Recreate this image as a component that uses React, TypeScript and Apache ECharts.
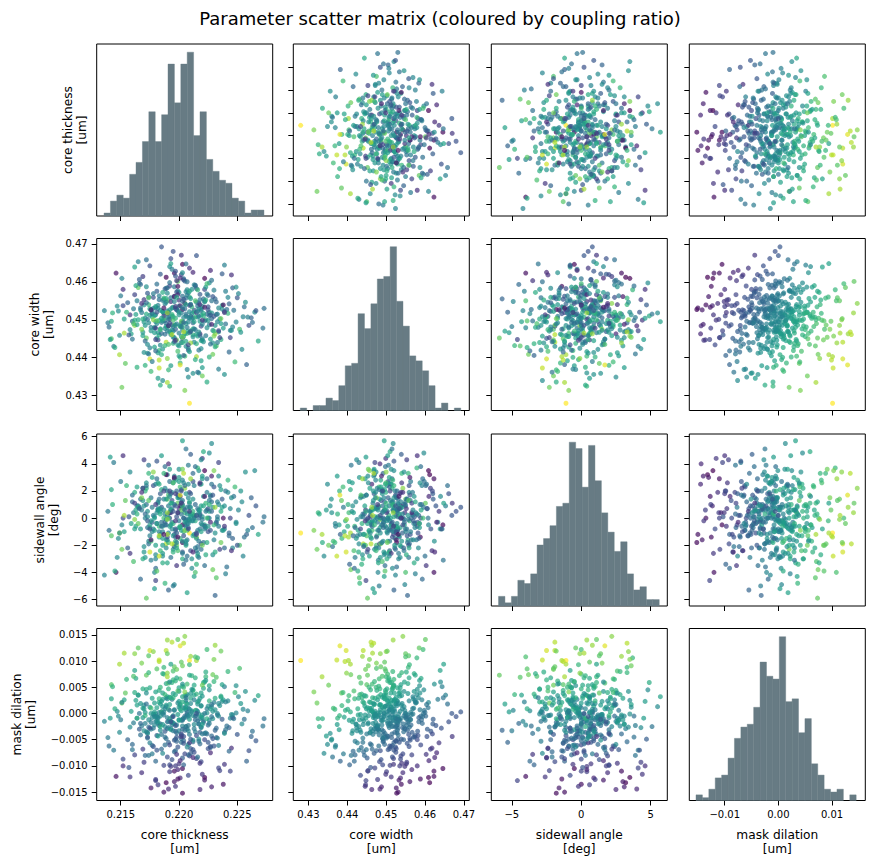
import React, { useEffect, useRef } from 'react';
import * as echarts from 'echarts';

// ---- Samples (500 Monte-Carlo draws). Lengths in nm, angle in degrees. ----
const coreThicknessNm = [
  220.9, 218.5, 213.6, 227.3, 227.2, 220.3, 220.5, 219.9, 217.5, 218.9,
  219.0, 214.9, 221.5, 216.2, 218.2, 221.8, 214.6, 215.2, 222.2, 219.6,
  225.2, 226.2, 226.5, 225.8, 216.5, 223.9, 220.3, 215.1, 214.2, 219.2,
  218.6, 217.2, 220.3, 222.8, 214.1, 223.1, 219.1, 220.7, 214.4,
  219.4, 221.2, 217.8, 220.6, 222.1, 218.9, 220.2, 216.7, 223.4, 219.7,
  221.8, 218.3, 220.9, 217.1, 222.6, 219.5, 224.3, 220.4, 216.0, 221.5,
  219.0, 218.1, 222.9, 220.1, 217.4, 221.0, 219.3, 223.7, 218.7, 220.8,
  215.3, 221.4, 219.8, 222.4, 217.9, 220.0, 218.4, 221.9, 216.9, 224.9,
  219.6, 220.5, 218.0, 222.2, 217.6, 221.3, 219.9, 223.0, 218.8, 220.7,
  216.4, 221.6, 219.2, 222.7, 218.6, 220.3, 225.6, 217.3, 220.9, 219.4,
  221.1, 218.2, 223.6, 219.7, 220.2, 217.0, 222.3, 220.6, 215.8, 219.1,
  221.7, 218.5, 220.0, 222.9, 219.3, 217.5, 224.0, 220.4, 216.6, 221.2,
  219.5, 222.0, 218.3, 220.8, 217.7, 221.5, 219.0, 223.2, 220.1, 218.0,
  221.9, 219.8, 216.2, 222.5, 220.3, 218.7, 220.5, 223.8, 217.2, 219.6,
  220.2, 221.4, 218.9, 222.8, 219.2, 217.8, 220.7, 224.6, 219.9, 215.9,
  221.0, 218.4, 220.4, 222.2, 219.1, 217.6, 221.6, 220.0, 223.3, 218.8,
  219.5, 220.9, 217.3, 222.4, 219.7, 221.3, 218.1, 220.6, 216.8, 222.0,
  220.3, 218.6, 221.8, 219.4, 223.5, 217.9, 220.1, 219.0, 222.6, 218.3,
  221.2, 219.8, 217.4, 220.8, 222.7, 218.7, 221.5, 219.6, 216.3, 220.4,
  223.1, 218.2, 220.0, 221.9, 219.3, 217.1, 220.6, 222.3, 219.1, 214.8,
  221.0, 219.7, 218.5, 222.1, 220.2, 217.7, 221.7, 219.9, 223.9, 218.9,
  220.5, 216.5, 221.3, 219.2, 222.6, 218.0, 220.9, 219.4, 224.2, 217.5,
  221.4, 219.0, 220.7, 218.4, 222.0, 220.1, 217.0, 221.6, 219.5, 223.0,
  218.6, 220.3, 221.9, 216.9, 219.8, 222.5, 218.2, 220.6, 219.2, 221.2,
  220.0, 218.8, 222.4, 219.6, 217.2, 221.8, 220.4, 223.4, 218.3, 220.8,
  219.3, 221.1, 218.0, 222.9, 220.2, 216.1, 219.7, 221.5, 224.4, 218.9,
  220.6, 219.4, 217.8, 222.2, 220.9, 218.5, 221.3, 219.1, 223.6, 216.7,
  220.1, 221.7, 218.7, 219.9, 222.8, 217.6, 220.5, 219.0, 221.2, 218.1,
  222.1, 219.8, 220.3, 217.3, 221.6, 219.5, 223.2, 218.4, 220.7, 221.0,
  219.2, 218.1, 222.0, 220.4, 217.9, 221.4, 219.6, 220.9, 223.7, 218.6,
  220.2, 221.9, 219.3, 217.4, 220.8, 222.7, 218.8, 220.0, 219.5, 221.3,
  218.2, 220.6, 222.3, 219.0, 216.4, 221.1, 219.7, 220.3, 224.7, 218.9,
  221.0, 219.4, 217.7, 222.5, 220.1, 218.3, 221.7, 219.9, 220.5, 223.3,
  218.6, 220.7, 222.2, 219.1, 217.1, 221.5, 220.0, 218.8, 221.8, 220.3,
  215.4, 224.5, 217.0, 222.9, 213.9, 225.3, 216.2, 223.9, 218.0, 221.6,
  214.7, 226.0, 219.3, 217.6, 222.6, 215.7, 224.1, 220.8, 216.5, 223.2,
  218.9, 221.9, 214.3, 225.0, 217.4, 220.6, 216.8, 223.4, 219.6, 222.0,
  215.0, 226.8, 218.4, 221.2, 217.8, 223.8, 214.5, 220.2, 224.8, 219.5,
  216.3, 222.4, 218.1, 225.9, 220.4, 217.2, 223.1, 215.6, 221.4, 219.0,
  224.0, 216.0, 220.9, 218.3, 222.8, 217.5, 225.4, 219.8, 214.2, 221.7,
  218.7, 223.5, 216.6, 220.5, 222.1, 217.9, 219.2, 224.3, 215.2, 221.0,
  219.9, 226.6, 217.1, 222.3, 218.5, 220.7, 216.1, 223.7, 219.4, 221.8,
  217.3, 222.6, 215.8, 220.3, 224.6, 218.2, 221.3, 216.9, 223.0, 219.7,
  214.9, 225.7, 218.0, 221.5, 219.1, 222.0, 217.4, 220.8, 224.2, 216.7,
  220.1, 222.7, 218.4, 219.6, 223.3, 215.5, 221.1, 217.7, 226.3, 219.3,
  221.9, 218.6, 216.4, 223.6, 220.2, 217.9, 222.2, 219.0, 225.1, 214.0,
  220.6, 218.8, 222.4, 216.8, 221.6, 219.5, 223.0, 217.6, 220.0, 224.9,
  218.1, 221.2, 215.1, 223.4, 219.8, 217.0, 222.5, 220.4, 225.5, 216.2,
  219.7, 222.8, 218.3, 221.0, 216.9, 224.4, 220.9, 217.5, 223.1, 219.2,
  221.4, 218.0, 222.0, 220.3, 215.3, 223.9, 217.2, 221.7, 219.0, 224.5, 218.7,
];

const coreWidthNm = [
  428.0, 469.2, 452.4, 453.0, 447.8, 452.7, 454.3, 460.1, 439.7, 444.1,
  455.0, 440.8, 440.3, 448.5, 444.7, 446.3, 462.3, 458.0, 460.9, 462.3,
  447.5, 450.5, 452.0, 438.2, 465.3, 464.4, 464.6, 432.2, 445.0, 432.5,
  434.0, 445.2, 449.5, 451.8, 444.8, 455.5, 452.0, 447.0, 443.0,
  453.1, 447.6, 455.9, 451.0, 444.2, 458.3, 449.1, 452.6, 446.8, 450.4,
  456.7, 441.9, 453.8, 448.5, 451.9, 445.4, 454.2, 460.8, 449.6, 443.7,
  452.3, 457.5, 447.2, 438.6, 454.0, 450.9, 446.1, 452.8, 455.4, 442.5,
  450.2, 459.1, 444.7, 451.5, 447.9, 453.6, 462.0, 448.3, 445.8, 449.4,
  456.2, 440.4, 451.3, 454.7, 448.0, 452.5, 443.4, 457.8, 449.8, 446.4,
  455.0, 450.7, 458.9, 444.9, 452.1, 447.3, 453.4, 441.2, 456.0, 448.7,
  451.6, 446.6, 449.0, 461.5, 444.0, 453.9, 450.0, 455.7, 447.4, 436.8,
  452.9, 449.3, 457.2, 443.9, 454.8, 451.2, 448.9, 445.6, 459.6, 450.5,
  447.0, 453.5, 455.3, 442.0, 450.8, 446.2, 458.4, 451.4, 448.2, 453.2,
  444.5, 452.6, 449.9, 456.4, 445.1, 451.7, 460.2, 447.8, 454.5, 448.6,
  451.8, 439.5, 455.6, 450.3, 446.9, 453.0, 457.9, 448.1, 452.4, 446.3,
  454.1, 443.3, 450.6, 458.0, 448.4, 452.7, 445.7, 455.2, 449.5, 447.7,
  453.3, 441.6, 450.1, 456.8, 447.5, 452.0, 459.4, 444.3, 451.9, 448.8,
  454.9, 449.7, 445.9, 463.3, 450.2, 442.8, 453.7, 448.0, 451.1, 456.3,
  446.0, 452.8, 449.2, 457.1, 443.6, 450.4, 454.6, 445.3, 451.4, 460.5,
  448.5, 453.8, 446.5, 451.2, 455.8, 444.4, 449.0, 458.6, 450.8, 452.3,
  447.1, 453.0, 440.8, 455.5, 449.6, 451.6, 446.8, 457.6, 452.2, 448.3,
  454.3, 450.0, 444.1, 459.8, 448.7, 453.5, 446.6, 451.0, 455.9, 442.6,
  450.7, 447.0, 456.5, 452.5, 445.0, 461.0, 449.4, 453.6, 443.8, 450.9,
  455.1, 448.1, 452.4, 446.7, 457.3, 449.8, 441.3, 454.0, 450.1, 445.5,
  452.0, 458.1, 447.9, 444.2, 451.5, 455.3, 449.3, 453.1, 446.0, 450.6,
  437.9, 453.4, 449.5, 456.1, 445.6, 452.9, 448.6, 451.9, 447.2, 454.6,
  443.0, 451.4, 456.9, 449.7, 452.1, 446.4, 459.2, 450.3, 444.8, 453.1,
  448.4, 454.4, 451.0, 441.7, 455.0, 447.1, 452.9, 457.0, 449.2, 445.2,
  451.7, 448.9, 456.2, 443.5, 452.2, 449.9, 454.7, 447.6, 460.0, 446.9,
  452.6, 449.0, 444.6, 455.4, 451.1, 447.4, 458.7, 450.5, 453.8, 442.3,
  448.2, 452.8, 446.5, 456.0, 449.4, 451.3, 454.2, 443.1, 450.8, 447.6,
  453.0, 457.4, 445.8, 451.6, 448.7, 450.2, 462.8, 444.0, 452.5, 449.1,
  455.6, 447.3, 451.8, 453.4, 440.1, 449.8, 450.9, 456.6, 446.3, 451.5,
  452.2, 448.0, 454.9, 443.5, 450.4, 458.2, 451.3, 446.2, 449.6, 453.2,
  438.5, 461.8, 455.3, 440.9, 449.2, 446.7, 463.9, 435.6, 444.8, 457.9,
  453.6, 448.5, 466.1, 436.4, 459.7, 446.0, 452.7, 434.9, 458.5, 443.1,
  461.2, 439.2, 451.8, 455.8, 441.0, 464.7, 447.5, 437.0, 454.8, 449.9,
  456.3, 444.4, 432.8, 462.5, 450.0, 453.9, 442.7, 467.0, 438.9, 448.2,
  459.0, 433.6, 452.0, 450.7, 440.6, 465.8, 446.3, 454.5, 458.9, 439.8,
  457.5, 444.9, 463.6, 437.3, 448.8, 452.9, 442.2, 460.3, 449.6, 436.0,
  455.7, 445.3, 460.6, 431.4, 451.0, 447.9, 464.0, 441.5, 453.7, 443.9,
  458.8, 452.4, 438.0, 455.2, 450.4, 436.9, 449.0, 462.1, 446.1, 454.0,
  457.0, 440.2, 451.3, 445.4, 458.4, 434.6, 449.5, 461.4, 447.0, 453.5,
  445.9, 454.6, 441.8, 466.9, 448.4, 435.2, 455.8, 443.4, 451.7, 459.3,
  438.1, 463.0, 447.4, 456.1, 444.0, 452.0, 458.0, 439.0, 449.3, 464.8,
  442.4, 457.2, 437.5, 450.3, 461.9, 446.6, 453.3, 433.5, 456.9, 448.1,
  451.5, 443.2, 459.5, 454.3, 436.2, 468.0, 445.7, 452.6, 440.5, 458.6,
  449.7, 435.9, 460.9, 447.1, 455.9, 441.4, 452.6, 446.8, 450.8, 456.6,
  444.6, 460.4, 439.4, 453.9, 450.2, 445.3, 457.5, 464.2, 442.9, 449.1,
  455.0, 447.8, 437.4, 462.4, 446.5, 451.9, 458.7, 442.0, 451.8, 447.2, 453.1,
];

const sidewallAngleDeg = [
  -1.1, 0.8, -4.2, 0.1, -0.3, -1.8, 2.2, 1.1, -2.5, -1.9,
  1.4, -1.1, -1.4, -0.1, 0.6, 2.5, -4.0, 4.6, 3.5, 2.9,
  -2.0, 1.5, 3.5, -1.2, 0.9, -0.8, -0.5, -2.3, -1.3, 0.4,
  -2.8, -5.9, 5.7, 5.5, 4.5, -5.7, -5.3, -5.5, 4.1,
  0.7, -1.3, 2.4, -0.2, 1.6, -2.2, 0.9, -0.8, 3.1, -1.7,
  0.3, -0.6, 1.9, -2.9, 0.5, 2.6, -1.1, 0.0, 1.2, -3.4,
  2.0, -0.4, 0.8, -1.5, 3.3, -2.4, 0.6, -0.9, 1.4, -0.1,
  -1.0, 1.0, -2.0, 2.9, 0.1, -0.7, 1.8, -1.9, 2.2, -0.3,
  -1.2, 0.4, 2.5, -0.5, -3.1, 0.2, 1.5, -1.6, 3.8, -0.9,
  0.9, -2.6, 0.0, 1.7, -0.6, 2.8, -1.4, 0.5, -0.2, 1.3,
  -3.7, 0.7, 2.1, -0.8, 0.3, -2.1, 1.1, -0.1, 3.4, -1.8,
  0.6, -0.3, 1.6, -2.7, 0.4, -0.5, 2.0, -1.0, 0.8, 2.7,
  -2.3, 0.1, 1.4, -0.7, 3.0, -1.5, 0.2, -0.4, 2.3, -3.0,
  0.9, -1.1, 1.9, 0.0, -2.5, 0.6, 2.4, -0.9, 1.0, -1.9,
  1.2, -0.2, -1.6, 0.5, 3.6, -0.8, 0.3, -2.2, 1.7, -0.4,
  0.8, -1.2, 2.6, -0.6, 0.0, 1.5, -2.8, 0.7, -0.1, 2.2,
  -1.3, 0.4, -0.7, 1.9, -1.4, 0.1, 2.9, -2.0, 0.6, -0.5,
  1.0, -2.6, 0.2, -0.3, 2.4, -0.9, 0.9, -3.3, 1.3, -1.0,
  0.5, 2.0, -1.7, -0.4, 1.6, 0.0, -2.4, 3.1, -0.6, 0.7,
  -1.1, 1.2, -0.2, 2.5, -2.9, 0.3, 1.8, -0.7, 0.9, -1.5,
  0.1, -0.9, 2.1, -1.8, 0.6, -0.3, 3.5, 0.4, -2.2, 1.4,
  -0.5, 0.8, -1.2, 2.7, 0.0, -2.0, 1.1, -0.8, 1.9, -1.3,
  0.2, 3.2, -1.6, 0.5, -0.1, 1.6, -2.5, 0.7, -0.4, 2.3,
  -1.0, 0.9, -2.3, 1.3, 0.1, -0.6, 2.6, -1.7, 0.4, -0.2,
  1.5, -0.3, 0.6, -2.1, 2.2, -0.8, 0.0, 1.0, -1.4, 3.9,
  -0.5, 0.3, -2.7, 1.7, -0.9, 0.4, 2.8, -1.2, 0.7, -0.1,
  -1.9, 1.1, 0.2, -3.5, 0.8, -0.6, 2.4, -1.1, 0.5, 1.4,
  -0.7, 0.0, 2.0, -2.4, 1.2, -0.2, 0.6, -1.6, 3.3, -0.4,
  0.9, -1.8, 1.3, 0.1, -0.9, 2.6, -0.3, 0.7, -2.8, 1.8,
  -0.6, 0.4, 2.9, -1.3, 0.0, -2.2, 1.0, -0.1, 0.8, -1.5,
  2.1, -0.4, 0.6, -1.9, 1.5, -0.9, 0.3, 3.0, -2.5, 0.0,
  1.1, -0.7, 0.5, -1.4, 2.3, -0.2, 0.9, -3.0, 1.6, -0.5,
  0.2, 1.9, -1.0, 0.7, -0.6, 2.5, -1.7, 0.4, -0.3, 1.2,
  -2.0, 0.8, -0.8, 1.7, 0.0, -1.1, 3.6, -0.5, 0.6, -2.6,
  1.3, -2.4, 4.3, -3.8, 0.5, 2.0, -0.8, 0.9, -4.6, 3.7,
  -2.9, 0.2, 1.8, -1.7, 4.8, 0.1, -3.6, 2.5, -0.4, -4.4,
  3.2, -1.0, 1.0, -2.0, 3.9, -3.1, 1.5, -0.6, -4.9, 4.4,
  2.7, -1.2, 0.3, -2.5, 3.4, 0.0, -3.9, 1.1, 2.3, -5.0,
  0.6, -1.8, 4.2, -0.9, -3.4, 2.4, 0.8, -2.2, 3.8, -0.1,
  -4.1, 1.7, 0.5, -2.8, 3.1, -0.7, 1.2, -3.5, 2.1, 0.4,
  3.3, -2.3, 0.7, -0.9, 4.9, -4.0, 1.6, -1.3, 0.0, 2.9,
  -1.4, 0.9, 2.0, -2.7, 4.6, -0.4, -3.2, 1.4, -1.9, 2.6,
  -0.2, 1.0, -2.6, 3.6, -1.5, 0.6, -4.3, 2.2, -0.5, 1.8,
  -1.1, 3.4, -3.7, 0.2, 4.0, -2.0, 1.3, -0.8, 2.8, -4.5,
  1.7, -0.3, -2.4, 3.0, 0.1, 2.4, -3.0, 0.8, -0.7, 1.1,
  4.3, -3.3, 0.3, -1.8, 2.0, -5.2, 1.6, -1.2, 0.6, -0.9,
  5.1, -4.8, 0.0, 1.9, -2.1, 0.5, 3.5, -1.6, 2.7, -0.4,
  -3.9, 1.4, -0.5, 4.1, -2.2, 0.9, -1.0, 3.3, -2.8, 1.1,
  -0.2, 2.5, -1.3, 4.7, -3.0, 0.0, 1.2, -0.8, -2.5, 2.0,
  -4.0, 1.0, 3.1, -1.7, 0.2, -0.6, 2.6, -2.9, 0.4, 1.5, -1.2,
];

const maskDilationNm = [
  10.1, 0.3, -1.5, -1.0, -2.4, -15.2, 14.7, 14.1, 12.0, 12.0,
  11.4, 9.4, 10.1, 11.4, -13.6, -14.5, -12.0, -10.0, -12.2, -11.0,
  8.6, -4.4, 2.5, -9.1, 3.5, 5.1, -10.5, 2.0, 5.5, -1.0,
  -7.6, 7.3, 3.2, 1.3, -0.9, -3.2, -5.5, 1.8, -7.0,
  -2.1, 4.4, -6.3, 0.7, -1.4, 3.0, -4.8, 1.9, -0.5, 6.2,
  -3.6, 2.8, -8.1, 0.2, 5.3, -1.8, -2.7, 1.1, -5.9, 3.7,
  -0.8, -4.2, 0.4, 1.5, 7.8, -6.7, -2.9, 2.3, -0.3, -3.3,
  2.6, -1.2, 8.4, -3.9, -0.6, 4.9, -2.0, -9.2, 1.0, 0.1,
  -5.1, 3.4, -1.5, 6.0, -3.0, -7.4, -0.2, 2.1, -4.5, 5.6,
  -0.9, 1.8, -6.0, 0.9, 3.9, -2.4, -1.1, -3.8, 9.3, -8.8,
  0.5, -1.9, 3.1, -3.4, -5.5, 1.6, 7.0, -0.7, -2.6, 0.8,
  2.4, -4.0, 4.2, -1.0, -10.1, 1.2, -3.1, 5.0, 0.0, -6.9,
  -0.4, 3.3, -2.3, -7.9, 2.9, 0.6, -1.6, -4.6, 6.6, -0.1,
  1.4, -5.3, 4.0, -2.2, -8.5, 0.3, -0.5, 2.6, -3.5, 8.9,
  -1.3, 0.6, 5.7, -4.3, 1.7, -2.8, 3.6, -0.3, -6.4, 0.4,
  1.9, -3.2, -0.9, -5.0, 4.7, -1.7, 2.2, -9.6, 0.0, -2.5,
  3.8, -1.1, -4.7, 0.9, -7.1, 5.4, -0.6, 2.0, -2.4, -0.8,
  -3.0, 1.3, -5.8, 2.7, 1.5, -0.3, -12.3, 3.2, -1.9, 0.2,
  4.5, -3.7, -1.2, 1.0, -6.5, 7.5, -0.4, -2.0, 2.5, -4.4,
  0.7, -0.9, -3.3, 3.9, -1.5, -8.0, 1.2, 6.3, -2.7, -0.5,
  2.9, -4.9, 0.3, -1.7, 9.8, -6.1, -0.1, 2.0, -3.6, 1.6,
  -7.7, 3.5, -2.1, 0.6, -1.3, 4.1, -4.0, -0.7, 2.4, -5.6,
  6.8, -2.9, -0.2, 1.8, -3.9, -9.0, 0.9, -1.4, 3.0, -6.2,
  0.0, 5.2, -2.6, -0.8, -4.5, 1.4, -1.6, 3.4, -11.1, -0.4,
  2.3, -3.4, 0.1, -7.3, 4.6, -1.0, -5.2, 1.9, 2.1, -2.3,
  -3.1, 7.2, -0.6, -4.8, 0.5, -1.8, 3.6, -8.6, -0.9, 1.3,
  -2.5, 5.9, -0.1, -3.8, 0.8, -6.8, 2.6, -1.5, 3.3, -4.1,
  1.7, -2.0, -9.9, 4.3, -0.6, 0.0, -3.2, 2.8, -5.4, 1.1,
  4.8, -2.2, -1.1, -3.6, 0.4, 8.1, -2.8, -0.5, 0.2, -7.6,
  3.1, -1.4, -0.3, -5.7, 2.0, -3.5, 0.7, -0.2, 5.5, -2.1,
  -4.1, 1.5, 3.0, -2.6, -0.5, -6.3, 0.9, -1.2, 6.4, -2.9,
  -0.7, 2.5, -3.7, -8.3, 1.6, 0.3, -2.3, 2.2, -1.0, -4.8,
  3.8, -1.7, -0.8, -5.5, 0.8, 4.4, -2.0, -10.7, 1.0, -0.3,
  2.7, -3.0, 0.0, 5.8, -1.9, -4.2, 1.2, -6.0, 2.9, -1.3,
  3.9, -6.6, -9.3, 7.4, -4.6, 1.9, 8.2, -3.8, -12.8, 10.6,
  0.4, -7.1, -1.6, 1.0, 4.5, -10.3, -2.4, -5.9, 12.5, 6.9,
  -13.2, -0.7, 5.1, -4.0, -8.0, 3.0, 9.6, -6.1, 0.6, -11.6,
  -1.2, 3.4, -2.5, -8.4, 11.8, -13.5, 0.9, -4.4, 4.0, -3.3,
  6.7, -1.0, -7.0, 0.5, -9.8, 1.8, 13.0, -5.0, -0.5, 7.7,
  2.2, -6.9, -5.6, 10.2, -14.0, 4.9, -2.0, -7.8, 2.8, -4.9,
  8.8, -10.9, -3.0, 4.1, 5.9, -2.2, 6.0, -7.2, -8.7, 10.9,
  -12.5, -5.2, -0.4, 7.9, 2.3, -6.4, 7.1, -1.1, 13.6, -9.5,
  -4.5, 2.4, -12.1, 9.1, -0.8, -4.3, 3.5, -6.8, 6.1, -10.0,
  -3.6, 4.2, -9.1, 0.0, -14.4, 5.4, 11.0, -11.8, 8.0, -1.9,
  12.9, -7.5, 5.0, -13.0, -4.7, 6.5, 4.6, -7.7, -3.4, 9.4,
  -2.7, 7.6, -0.9, 11.9, -3.9, 0.3, -12.7, 7.0, 3.2, -6.2,
  -2.5, 3.6, 12.2, -11.3, -8.3, -0.6, 10.3, -14.2, -1.3, 5.3,
  8.5, -5.1, 2.1, -10.4, 6.8, -3.3, -6.7, 13.4, 0.8, -7.9,
  -13.9, 1.7, 9.9, -4.9, 4.7, -11.0, 7.3, -2.8, 2.9, -9.8,
  10.8, -12.6, -2.1, 5.6, 11.5, -9.7, 3.9, -5.3, 14.0, -0.2, -15.0,
];

// Coupling ratio of each sample, in percent (drives the colour scale).
const couplingRatioPct = [
  73, 41, 49, 45, 46, 30, 65, 62, 70, 68,
  62, 67, 67, 65, 37, 34, 31, 35, 29, 31,
  60, 43, 50, 43, 48, 48, 30, 63, 61, 58,
  50, 62, 54, 50, 53, 43, 43, 54, 47,
  46, 56, 40, 50, 51, 50, 45, 52, 50, 57,
  42, 58, 38, 52, 55, 50, 43, 46, 44, 57,
  48, 42, 51, 58, 58, 41, 49, 50, 48, 50,
  54, 44, 63, 44, 51, 54, 42, 39, 54, 49,
  41, 59, 48, 54, 48, 40, 53, 48, 45, 59,
  48, 51, 39, 53, 54, 49, 45, 51, 58, 40,
  50, 50, 53, 41, 46, 51, 58, 46, 50, 58,
  51, 46, 52, 51, 36, 52, 46, 58, 46, 41,
  51, 52, 45, 44, 54, 52, 44, 43, 59, 49,
  54, 43, 56, 44, 42, 50, 44, 53, 45, 62,
  48, 56, 55, 44, 54, 46, 50, 49, 41, 54,
  50, 50, 49, 39, 57, 47, 54, 36, 49, 49,
  53, 53, 45, 47, 43, 55, 45, 55, 47, 49,
  44, 52, 44, 47, 51, 54, 34, 55, 47, 48,
  57, 45, 50, 48, 45, 59, 47, 50, 54, 40,
  51, 48, 48, 54, 46, 44, 52, 53, 47, 50,
  55, 43, 56, 45, 62, 43, 51, 49, 44, 53,
  39, 55, 50, 46, 48, 54, 47, 49, 49, 48,
  57, 48, 47, 52, 47, 34, 52, 46, 57, 41,
  48, 57, 45, 52, 41, 51, 53, 52, 37, 51,
  52, 42, 51, 44, 56, 46, 44, 50, 55, 47,
  53, 57, 50, 41, 53, 47, 55, 38, 49, 50,
  50, 57, 47, 45, 50, 44, 48, 49, 56, 45,
  53, 45, 38, 60, 46, 52, 45, 50, 44, 54,
  55, 48, 46, 50, 49, 60, 44, 51, 45, 42,
  53, 50, 52, 41, 53, 47, 47, 49, 54, 52,
  46, 50, 56, 45, 49, 41, 49, 52, 57, 47,
  49, 49, 47, 40, 54, 50, 41, 56, 46, 45,
  52, 50, 49, 41, 56, 56, 47, 34, 53, 48,
  53, 47, 47, 60, 48, 40, 51, 45, 53, 47,
  62, 35, 37, 63, 47, 52, 54, 51, 38, 58,
  50, 40, 40, 59, 50, 41, 45, 50, 62, 61,
  29, 54, 57, 41, 46, 46, 64, 48, 49, 36,
  47, 55, 56, 34, 65, 31, 56, 36, 59, 47,
  55, 56, 41, 48, 43, 45, 66, 43, 45, 65,
  48, 46, 36, 69, 33, 55, 50, 36, 55, 51,
  58, 38, 42, 64, 56, 49, 50, 44, 39, 66,
  31, 41, 57, 56, 53, 49, 60, 42, 68, 36,
  42, 57, 36, 63, 43, 53, 54, 37, 58, 37,
  50, 51, 44, 41, 34, 63, 61, 39, 58, 44,
  71, 34, 58, 32, 47, 58, 51, 47, 45, 54,
  50, 56, 57, 63, 39, 53, 32, 67, 49, 45,
  46, 58, 59, 35, 46, 40, 64, 32, 53, 51,
  61, 51, 49, 38, 55, 51, 40, 68, 49, 38,
  36, 46, 68, 42, 56, 38, 55, 40, 56, 39,
  60, 37, 53, 51, 67, 36, 51, 47, 66, 50, 31,
];

// Histogram counts (25 equal bins between each parameter's min and max).
const thicknessCounts = [1, 5, 7, 6, 14, 18, 25, 35, 25, 34, 51, 38, 51, 55, 27, 35, 19, 15, 12, 11, 6, 5, 1, 2, 2];
const widthCounts = [1, 0, 2, 2, 5, 4, 10, 18, 19, 39, 33, 43, 53, 54, 66, 44, 34, 22, 20, 16, 10, 1, 3, 0, 1];
const angleCounts = [3, 1, 3, 8, 7, 10, 19, 21, 25, 31, 32, 51, 49, 37, 50, 39, 29, 23, 17, 20, 10, 5, 6, 2, 2];
const dilationCounts = [2, 1, 4, 8, 9, 15, 22, 26, 27, 33, 49, 44, 43, 58, 35, 36, 24, 29, 13, 9, 4, 3, 4, 0, 2];

// Tick positions (in the stored units)
const thicknessXTicks = [215, 220, 225];
const thicknessYTicks = [214, 216, 218, 220, 222, 224, 226];
const widthTicks = [430, 440, 450, 460, 470];
const angleXTicks = [-5, 0, 5];
const angleYTicks = [-6, -4, -2, 0, 2, 4, 6];
const dilationXTicks = [-10, 0, 10];
const dilationYTicks = [-15, -10, -5, 0, 5, 10, 15];

const TITLE = 'Parameter scatter matrix (coloured by coupling ratio)';
const FONT = 'DejaVu Sans';
const HIST_COLOR = '#677b84';
const VIRIDIS = ['#440154', '#482878', '#3e4989', '#31688e', '#26828e', '#1f9e89', '#35b779', '#6ece58', '#b5de2b', '#fde725'];

const COL_LEFT = [96.7, 293.3, 491.3, 689.3];
const ROW_TOP = [44, 238.5, 434, 628.5];
const PANEL_W = 176;
const PANEL_H = 172;
const Y_LABEL_X = [74.5, 41.5, 46.5, 24];

const minus = (s: string) => s.replace('-', '\u2212');

type Dim = {
  name: string;
  unit: string;
  values: number[];
  range: [number, number];
  xTicks: number[];
  yTicks: number[];
  xFmt: (v: number) => string;
  yFmt: (v: number) => string;
  bins: [number, number];
  counts: number[];
};

const dims: Dim[] = [
  {
    name: 'core thickness', unit: '[um]', values: coreThicknessNm, range: [212.94, 228.04],
    xTicks: thicknessXTicks, yTicks: thicknessYTicks,
    xFmt: (v) => (v / 1000).toFixed(3), yFmt: (v) => (v / 1000).toFixed(3),
    bins: [213.57, 227.29], counts: thicknessCounts,
  },
  {
    name: 'core width', unit: '[um]', values: coreWidthNm, range: [426.1, 471.4],
    xTicks: widthTicks, yTicks: widthTicks,
    xFmt: (v) => (v / 1000).toFixed(2), yFmt: (v) => (v / 1000).toFixed(2),
    bins: [427.9, 469.2], counts: widthCounts,
  },
  {
    name: 'sidewall angle', unit: '[deg]', values: sidewallAngleDeg, range: [-6.48, 6.2],
    xTicks: angleXTicks, yTicks: angleYTicks,
    xFmt: (v) => minus(String(v)), yFmt: (v) => minus(String(v)),
    bins: [-5.96, 5.62], counts: angleCounts,
  },
  {
    name: 'mask dilation', unit: '[um]', values: maskDilationNm, range: [-16.6, 16.2],
    xTicks: dilationXTicks, yTicks: dilationYTicks,
    xFmt: (v) => minus((v / 1000).toFixed(2)), yFmt: (v) => minus((v / 1000).toFixed(3)),
    bins: [-15.35, 14.5], counts: dilationCounts,
  },
];

function buildOption() {
  const grids: any[] = [];
  const xAxes: any[] = [];
  const yAxes: any[] = [];
  const series: any[] = [];
  const scatterIdx: number[] = [];
  const tickStyle = { color: '#000', width: 1 };
  const labelStyle = { fontSize: 10, color: '#000', fontFamily: FONT };

  dims.forEach((rowDim, r) => {
    dims.forEach((colDim, c) => {
      const i = r * 4 + c;
      grids.push({
        left: COL_LEFT[c], top: ROW_TOP[r], width: PANEL_W, height: PANEL_H,
        show: true, borderColor: '#000', borderWidth: 1, backgroundColor: 'transparent',
        outerBoundsMode: 'none',
      });
      xAxes.push({
        gridIndex: i, type: 'value', position: 'bottom',
        min: colDim.range[0], max: colDim.range[1],
        axisLine: { show: false, onZero: false },
        splitLine: { show: false },
        axisTick: { show: true, customValues: colDim.xTicks, length: 5, lineStyle: tickStyle },
        axisLabel: { show: r === 3, customValues: colDim.xTicks, formatter: colDim.xFmt, margin: 9, ...labelStyle },
      });
      if (r === c) {
        const maxCount = Math.max(...colDim.counts);
        yAxes.push({
          gridIndex: i, type: 'value', min: 0, max: maxCount * 1.05,
          axisLine: { show: false, onZero: false }, splitLine: { show: false },
          axisTick: { show: false }, axisLabel: { show: false },
        });
        const binW = (colDim.bins[1] - colDim.bins[0]) / colDim.counts.length;
        const data = colDim.counts
          .map((n, k) => [colDim.bins[0] + k * binW, colDim.bins[0] + (k + 1) * binW, n])
          .filter((d) => d[2] > 0);
        series.push({
          type: 'custom', xAxisIndex: i, yAxisIndex: i, data, silent: true,
          encode: { x: [0, 1], y: 2 },
          renderItem: (_p: any, api: any) => {
            const a = api.coord([api.value(0), api.value(2)]);
            const b = api.coord([api.value(1), 0]);
            return {
              type: 'rect',
              shape: { x: a[0], y: a[1], width: b[0] - a[0], height: b[1] - a[1] },
              style: { fill: HIST_COLOR, stroke: HIST_COLOR, lineWidth: 0.4 },
            };
          },
        });
      } else {
        yAxes.push({
          gridIndex: i, type: 'value', position: 'left',
          min: rowDim.range[0], max: rowDim.range[1],
          axisLine: { show: false, onZero: false }, splitLine: { show: false },
          axisTick: { show: true, customValues: rowDim.yTicks, length: 5, lineStyle: tickStyle },
          axisLabel: { show: c === 0, customValues: rowDim.yTicks, formatter: rowDim.yFmt, margin: 9, ...labelStyle },
        });
        scatterIdx.push(series.length);
        series.push({
          type: 'scatter', xAxisIndex: i, yAxisIndex: i, silent: true,
          symbolSize: 5, itemStyle: { opacity: 0.7 },
          data: colDim.values.map((v, k) => [v, rowDim.values[k], couplingRatioPct[k]]),
        });
      }
    });
  });

  const graphics: any[] = [
    {
      type: 'text', x: 440, y: 18.7,
      style: {
        text: TITLE, fill: '#000', fontSize: 18, fontFamily: FONT,
        align: 'center', verticalAlign: 'middle', textAlign: 'center', textVerticalAlign: 'middle',
      },
    },
  ];
  dims.forEach((d, k) => {
    graphics.push({
      type: 'text', x: COL_LEFT[k] + PANEL_W / 2, y: 842,
      style: {
        text: `${d.name}\n${d.unit}`, fill: '#000', fontSize: 12.2, fontFamily: FONT, lineHeight: 14.3,
        align: 'center', verticalAlign: 'middle', textAlign: 'center', textVerticalAlign: 'middle',
      },
    });
    graphics.push({
      type: 'text', x: Y_LABEL_X[k], y: ROW_TOP[k] + PANEL_H / 2, rotation: Math.PI / 2,
      style: {
        text: `${d.name}\n${d.unit}`, fill: '#000', fontSize: 12.2, fontFamily: FONT, lineHeight: 14,
        align: 'center', verticalAlign: 'middle', textAlign: 'center', textVerticalAlign: 'middle',
      },
    });
  });

  return {
    animation: false,
    backgroundColor: '#fff',
    textStyle: { fontFamily: FONT },
    grid: grids,
    xAxis: xAxes,
    yAxis: yAxes,
    visualMap: {
      type: 'continuous', show: false, dimension: 2,
      min: Math.min(...couplingRatioPct), max: Math.max(...couplingRatioPct),
      inRange: { color: VIRIDIS }, seriesIndex: scatterIdx,
    },
    graphic: graphics,
    series,
  };
}

export default function App() {
  const ref = useRef<HTMLDivElement>(null);
  useEffect(() => {
    if (!ref.current) return;
    const chart = echarts.init(ref.current, undefined, { renderer: 'svg' });
    chart.setOption(buildOption() as any);
    return () => chart.dispose();
  }, []);
  return <div ref={ref} style={{ position: 'absolute', left: 0, top: 0, width: 875, height: 867 }} />;
}
